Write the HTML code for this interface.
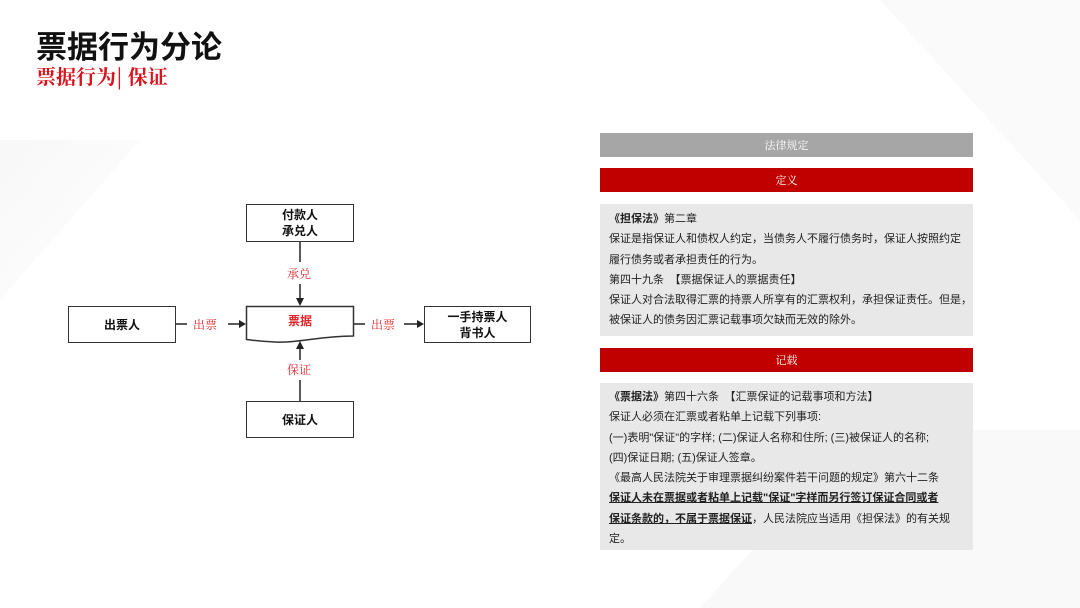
<!DOCTYPE html>
<html><head><meta charset="utf-8"><style>
body{margin:0;width:1080px;height:608px;position:relative;overflow:hidden;background:#fff;font-family:"Liberation Sans","Noto Sans CJK SC",sans-serif;}
.a{position:absolute}
.box{position:absolute;border:1.5px solid #333;box-sizing:border-box;background:#fff;display:flex;align-items:center;justify-content:center;text-align:center;font-size:12px;font-weight:bold;line-height:16px;color:#111}
.lbl{position:absolute;color:#e0252b;font-size:12px;background:#fff;font-family:"Noto Serif CJK SC",serif}
.bar{position:absolute;left:600px;width:373px;height:24px;color:#fff;font-size:11px;text-align:center;line-height:24px;font-family:"Noto Serif CJK SC",serif}
.panel{position:absolute;left:600px;width:373px;background:#e8e8e8;font-size:11px;color:#222;box-sizing:border-box;padding-left:9px}
.panel div{height:20.3px;line-height:20.3px;white-space:nowrap}
</style></head><body>
<svg class="a" style="left:0;top:0" width="1080" height="608">
<defs><linearGradient id="g" x1="0" y1="0" x2="1" y2="1"><stop offset="0" stop-color="#f0f0f0"/><stop offset="1" stop-color="#fff"/></linearGradient></defs>
<polygon points="0,300 140,140 0,140" fill="url(#g)" opacity="0.5"/>
<polygon points="700,608 860,430 1080,430 1080,608" fill="#f9f9f9"/>
<polygon points="880,0 1080,0 1080,220" fill="#fafafa"/>
<line x1="300" y1="242" x2="300" y2="262" stroke="#222" stroke-width="1.5"/>
<line x1="300" y1="284" x2="300" y2="300" stroke="#222" stroke-width="1.5"/>
<polygon points="296,298 304,298 300,306" fill="#222"/>
<line x1="300" y1="401" x2="300" y2="380" stroke="#222" stroke-width="1.5"/>
<line x1="300" y1="360" x2="300" y2="348" stroke="#222" stroke-width="1.5"/>
<polygon points="296,349 304,349 300,341" fill="#222"/>
<line x1="176" y1="324" x2="187" y2="324" stroke="#222" stroke-width="1.5"/>
<line x1="228" y1="324" x2="240" y2="324" stroke="#222" stroke-width="1.5"/>
<polygon points="239,320 239,328 246,324" fill="#222"/>
<line x1="354" y1="324" x2="365" y2="324" stroke="#222" stroke-width="1.5"/>
<line x1="404" y1="324" x2="418" y2="324" stroke="#222" stroke-width="1.5"/>
<polygon points="417,320 417,328 424,324" fill="#222"/>
<path d="M246.5,306.5 H353.5 V336 C320,336 300,343 275,342 C260,341.5 252,340 246.5,339.5 Z" fill="#fff" stroke="#333" stroke-width="1.5"/>
</svg>
<div class="a" style="left:36px;top:22px;font-size:31px;font-weight:bold;color:#111">票据行为分论</div>
<div class="a" style="left:36px;top:61px;font-size:20px;color:#d9141c;font-weight:bold;font-family:'Noto Serif CJK SC',serif">票据行为| 保证</div>
<div class="box" style="left:246px;top:204px;width:108px;height:38px">付款人<br>承兑人</div>
<div class="box" style="left:68px;top:306px;width:108px;height:37px">出票人</div>
<div class="box" style="left:424px;top:306px;width:107px;height:37px">一手持票人<br>背书人</div>
<div class="box" style="left:246px;top:401px;width:108px;height:37px">保证人</div>
<div class="a" style="left:246px;top:312px;width:108px;text-align:center;color:#e0252b;font-weight:bold;font-size:12px">票据</div>
<div class="lbl" style="left:287px;top:265px">承兑</div>
<div class="lbl" style="left:287px;top:361px">保证</div>
<div class="lbl" style="left:193px;top:316px">出票</div>
<div class="lbl" style="left:371px;top:316px">出票</div>
<div class="bar" style="top:133px;background:#a6a6a6">法律规定</div>
<div class="bar" style="top:168px;background:#c00000">定义</div>
<div class="panel" style="top:204px;height:132px;padding-top:5px">
<div><b>《担保法》</b>第二章</div>
<div>保证是指保证人和债权人约定，当债务人不履行债务时，保证人按照约定</div>
<div>履行债务或者承担责任的行为。</div>
<div>第四十九条　【票据保证人的票据责任】</div>
<div>保证人对合法取得汇票的持票人所享有的汇票权利，承担保证责任。但是，</div>
<div>被保证人的债务因汇票记载事项欠缺而无效的除外。</div>
</div>
<div class="bar" style="top:348px;background:#c00000">记载</div>
<div class="panel" style="top:383px;height:167px;padding-top:4px">
<div><b>《票据法》</b>第四十六条　【汇票保证的记载事项和方法】</div>
<div>保证人必须在汇票或者粘单上记载下列事项:</div>
<div>(一)表明"保证"的字样; (二)保证人名称和住所; (三)被保证人的名称;</div>
<div>(四)保证日期; (五)保证人签章。</div>
<div>《最高人民法院关于审理票据纠纷案件若干问题的规定》第六十二条</div>
<div><b><u>保证人未在票据或者粘单上记载"保证"字样而另行签订保证合同或者</u></b></div>
<div><b><u>保证条款的，不属于票据保证</u></b>，人民法院应当适用《担保法》的有关规</div>
<div>定。</div>
</div>
</body></html>
